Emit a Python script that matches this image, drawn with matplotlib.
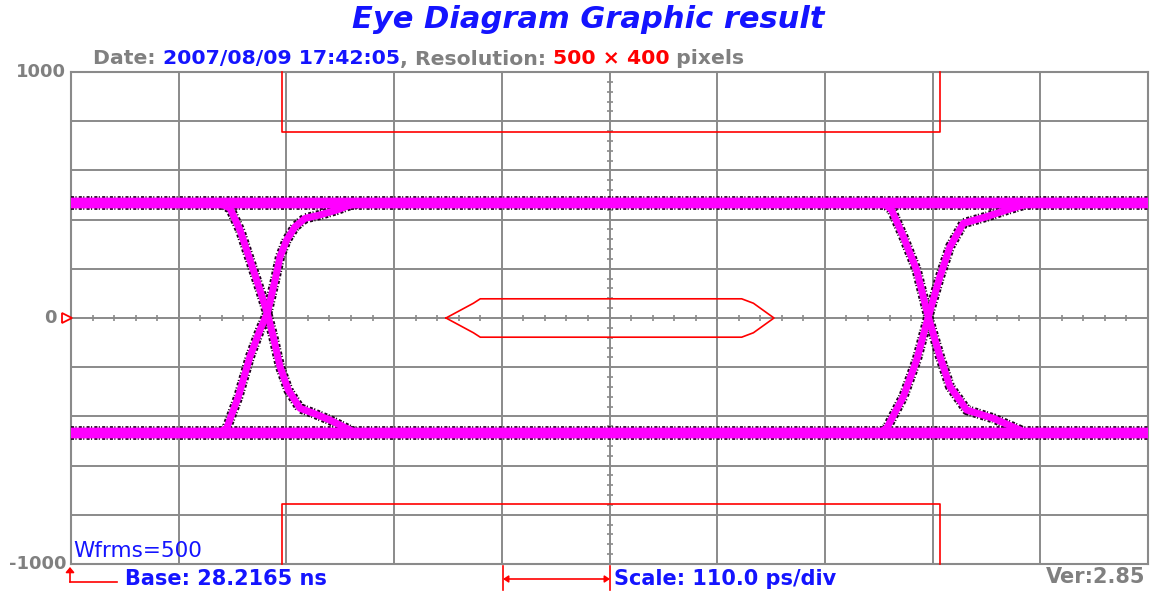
import numpy as np
import matplotlib
matplotlib.use("Agg")
import matplotlib.pyplot as plt
from matplotlib.lines import Line2D
from matplotlib.text import Annotation
from matplotlib.patches import FancyArrowPatch

plt.rcParams["lines.scale_dashes"] = False

# ---------------- data ----------------
x_min, x_max = 0, 1100          # ps (10 div x 110 ps)
y_min, y_max = -1000, 1000      # mV
ytick_labels = ["1000", "0", "-1000"]
ytick_values = [1000, 0, -1000]

high_level = 467
low_level = -469

# edge traces (ps, mV)
rise1_t = [150, 159.0, 170.9, 182.8, 193.0, 200.5, 208.4, 213.5, 220.3, 228.8, 239.0, 254.3, 271.4, 285.0, 295]
rise1_v = [-469, -448, -320, -157, -49, 19, 154, 249, 317, 371, 405, 419, 439, 459, 467]
fall1_t = [152, 162.4, 172.6, 182.8, 193.0, 200.5, 206.6, 213.5, 222.0, 233.9, 247.5, 264.5, 288.3, 295]
fall1_v = [467, 446, 358, 236, 114, 19, -76, -198, -293, -367, -387, -415, -462, -469]
rise2_t = [825, 833.1, 850.1, 863.7, 875.6, 887.5, 897.8, 911.4, 935.2, 955.6, 972.6, 982]
rise2_v = [-469, -448, -320, -171, 5, 168, 290, 385, 412, 439, 459, 467]
fall2_t = [830, 838.2, 850.1, 863.7, 875.6, 887.5, 897.8, 914.8, 942.0, 969.2, 973.7, 982]
fall2_v = [467, 439, 331, 195, 5, -157, -279, -374, -408, -455, -469, -469]

# masks (ps, mV)
top_mask_t = [215, 215, 888, 888]
top_mask_v = [1000, 755, 755, 1000]
bot_mask_t = [215, 215, 888, 888]
bot_mask_v = [-1000, -755, -755, -1000]
mid_mask_t = [383, 411, 418, 685, 697, 718, 697, 685, 418, 411, 383]
mid_mask_v = [0, 60, 78, 78, 60, 0, -60, -78, -78, -60, 0]

title = "Eye Diagram Graphic result"
sub_parts = [("Date: ", "#808080"), ("2007/08/09 17:42:05", "#1414FF"),
             (", Resolution: ", "#808080"), ("500 \u00d7 400", "#FF0000"),
             (" pixels", "#808080")]
base_text = "Base: 28.2165 ns"
scale_text = "Scale: 110.0 ps/div"
ver_text = "Ver:2.85"
wfrms_text = "Wfrms=500"

# ---------------- figure ----------------
W, H = 1153, 591
fig = plt.figure(figsize=(W / 100, H / 100), dpi=100)
fig.patch.set_facecolor("white")
L, R, T, B = 71, 1148, 72, 564
ax = fig.add_axes([L / W, 1 - B / H, (R - L) / W, (B - T) / H])
ax.set_xlim(x_min, x_max)
ax.set_ylim(y_min, y_max)
ax.set_xticks([]); ax.set_yticks([])
grid_c = "#8a8a8a"
for s in ax.spines.values():
    s.set_color(grid_c); s.set_linewidth(1.5)

for gx in np.linspace(x_min, x_max, 11)[1:-1]:
    ax.axvline(gx, color=grid_c, lw=1.4, zorder=1)
for gy in np.linspace(y_min, y_max, 11)[1:-1]:
    ax.axhline(gy, color=grid_c, lw=1.4, zorder=1)

# minor ticks on the central axes
xt = np.arange(x_min, x_max + 1, 22)
ax.plot(xt, np.zeros_like(xt), ls="none", marker="|", ms=5, mew=1.2, color=grid_c, zorder=1)
yt = np.arange(y_min, y_max + 1, 40)
ax.plot(np.full_like(yt, 550), yt, ls="none", marker="_", ms=5, mew=1.2, color=grid_c, zorder=1)

MAG = "#FF00FF"

def trace(t, v, lw):
    ax.plot(t, v, color="#200020", lw=lw + 2.4, ls=(0, (2.2, 1.0, 0.8, 1.6)),
            solid_joinstyle="round", zorder=3)
    ax.plot(t, v, color=MAG, lw=lw, solid_capstyle="butt", solid_joinstyle="round", zorder=4)

trace([x_min, x_max], [high_level, high_level], 7.5)
trace([x_min, x_max], [low_level, low_level], 7.5)
for t, v in [(rise1_t, rise1_v), (fall1_t, fall1_v), (rise2_t, rise2_v), (fall2_t, fall2_v)]:
    trace(t, v, 5.0)
ax.plot([x_min, x_max], [high_level, high_level], color=MAG, lw=7.5, zorder=5)
ax.plot([x_min, x_max], [low_level, low_level], color=MAG, lw=7.5, zorder=5)

RED = "#FF0000"
for t, v in [(top_mask_t, top_mask_v), (bot_mask_t, bot_mask_v), (mid_mask_t, mid_mask_v)]:
    ax.plot(t, v, color=RED, lw=1.2, zorder=6, clip_on=False)

# red zero marker
ax.plot([-4.5], [0], marker=">", ms=6.5, mfc="white", mec=RED, mew=1.3, clip_on=False, zorder=7)

# y labels
FONT = "DejaVu Sans"
GRAY = "#808080"
BLUE = "#1414FF"
for lab, val in zip(ytick_labels, ytick_values):
    xoff = -14 if val == 0 else -5
    ax.annotate(lab, xy=(0, val), xycoords=("axes fraction", "data"),
                xytext=(xoff, 0), textcoords="offset pixels",
                ha="right", va="center", fontsize=13, fontweight="bold",
                color=GRAY, family=FONT)

def fp(x, y):
    return (x / W, 1 - y / H)

fig.text(*fp(588, 20), title, ha="center", va="center", fontsize=22,
         fontweight="bold", style="italic", color=BLUE, family=FONT)

p = fig.text(*fp(93, 59), sub_parts[0][0], ha="left", va="center",
             fontsize=14.7, fontweight="bold", color=sub_parts[0][1], family=FONT)
for txt, col in sub_parts[1:]:
    p = fig.add_artist(Annotation(
        txt, xy=(1, 0), xycoords=p, xytext=(0, 0), textcoords="offset pixels",
        ha="left", va="bottom", fontsize=14.7, fontweight="bold", color=col, family=FONT))

fig.text(*fp(125, 579), base_text, ha="left", va="center", fontsize=15,
         fontweight="bold", color=BLUE, family=FONT)
fig.text(*fp(614, 579), scale_text, ha="left", va="center", fontsize=15,
         fontweight="bold", color=BLUE, family=FONT)
fig.text(*fp(1145, 577), ver_text, ha="right", va="center", fontsize=15,
         fontweight="bold", color=GRAY, family=FONT)
fig.text(*fp(73, 551), wfrms_text, ha="left", va="center", fontsize=15.5,
         color=BLUE, family=FONT)

# base arrow
fig.add_artist(Line2D([70 / W, 117 / W], [1 - 582 / H, 1 - 582 / H], color=RED, lw=1.2))
fig.add_artist(FancyArrowPatch(
    posA=(70, H - 582), posB=(70, H - 567), transform=None,
    arrowstyle="-|>,head_length=3,head_width=2.5", color=RED, lw=1.2,
    shrinkA=0, shrinkB=0))

# scale bracket
for xx in (503, 610):
    fig.add_artist(Line2D([xx / W, xx / W], [1 - 566 / H, 1 - 590 / H], color=RED, lw=1.2))
fig.add_artist(FancyArrowPatch(
    posA=(503, H - 579), posB=(610, H - 579), transform=None,
    arrowstyle="<|-|>,head_length=3,head_width=2", color=RED, lw=1.2,
    shrinkA=0, shrinkB=0))

fig.savefig("out.png", dpi=100, facecolor="white")
